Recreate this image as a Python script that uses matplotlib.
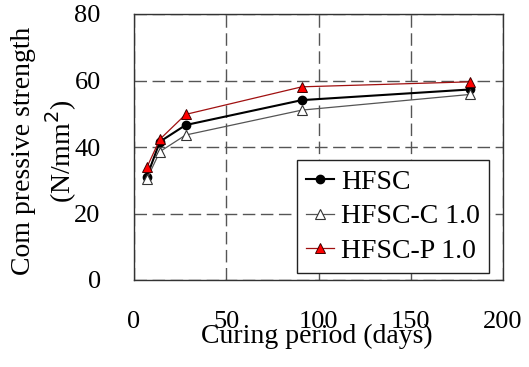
import matplotlib.pyplot as plt

days = [7, 14, 28, 91, 182]
hfsc = [31.1, 41.6, 46.6, 54.1, 57.3]
hfsc_c = [30.4, 38.6, 43.6, 51.1, 55.8]
hfsc_p = [33.9, 42.3, 49.8, 58.1, 59.6]

plt.rcParams['font.family'] = ['Liberation Serif', 'DejaVu Serif']

fig = plt.figure(figsize=(5.29, 3.67), dpi=100)
ax = fig.add_axes([134 / 529, 1 - 280 / 367, 369 / 529, 266 / 367])

ax.plot(days, hfsc, color='black', linewidth=1.5, marker='o', markersize=6,
        label='HFSC')
ax.plot(days, hfsc_c, color='#555555', linewidth=0.9, marker='^', markersize=7,
        markerfacecolor='white', markeredgecolor='#333333', markeredgewidth=0.8,
        label='HFSC-C 1.0')
ax.plot(days, hfsc_p, color='#a01010', linewidth=0.9, marker='^', markersize=7,
        markerfacecolor='red', markeredgecolor='#400000', markeredgewidth=0.7,
        label='HFSC-P 1.0')

ax.set_xlim(0, 200)
ax.set_ylim(0, 80)
ax.set_xticks([0, 50, 100, 150, 200])
ax.set_yticks([0, 20, 40, 60, 80])
ax.grid(True, linestyle=(0, (9, 4)), color='#555555', linewidth=1)
ax.tick_params(direction='in', length=0, labelsize=19)
ax.tick_params(axis='x', pad=22)
ax.tick_params(axis='y', pad=24)
for s in ax.spines.values():
    s.set_color('#333333')
    s.set_linewidth(1)

ax.set_xlabel('Curing period (days)', fontsize=20)
ax.xaxis.set_label_coords(0.495, -0.165)
ax.set_ylabel('Com pressive strength\n(N/mm$^2$)', fontsize=20, linespacing=1.25)
ax.yaxis.set_label_coords(-0.15, 0.485)

leg = ax.legend(loc='lower right', bbox_to_anchor=(0.962, 0.026), fontsize=20,
                fancybox=False, framealpha=1, edgecolor='#222222',
                borderpad=0.33, labelspacing=0.33, handlelength=1.0,
                handletextpad=0.25, borderaxespad=0)
leg.get_frame().set_linewidth(1)

fig.savefig('out.png', dpi=100)
